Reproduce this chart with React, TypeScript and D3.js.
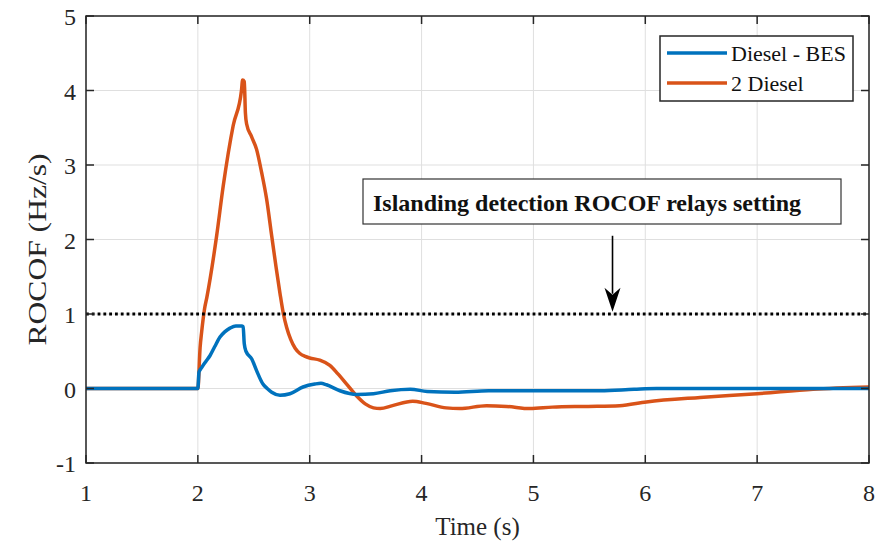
import React from "react";
import * as d3 from "d3";

const xTicks = [1, 2, 3, 4, 5, 6, 7, 8];
const yTicks = [-1, 0, 1, 2, 3, 4, 5];

const seriesNames = ["Diesel - BES", "2 Diesel"];
const seriesColors = ["#0072BD", "#D95319"];

const blueT = [1, 2.0, 2.01, 2.034, 2.07, 2.108, 2.15, 2.198, 2.24, 2.287, 2.34, 2.391, 2.405, 2.415, 2.43, 2.481, 2.525, 2.582, 2.62, 2.66, 2.734, 2.823, 2.94, 3.046, 3.1, 3.15, 3.27, 3.42, 3.57, 3.72, 3.9, 4.05, 4.3, 4.6, 5.0, 5.6, 5.9, 6.1, 8.0];
const blueV = [0, 0, 0.22, 0.28, 0.36, 0.44, 0.56, 0.69, 0.76, 0.81, 0.84, 0.84, 0.83, 0.6, 0.5, 0.4, 0.24, 0.06, 0.0, -0.05, -0.09, -0.07, 0.02, 0.06, 0.07, 0.05, -0.03, -0.08, -0.07, -0.03, -0.01, -0.04, -0.05, -0.03, -0.03, -0.03, -0.01, 0.0, 0.0];

const orangeT = [1, 2.0, 2.02, 2.034, 2.06, 2.08, 2.168, 2.227, 2.316, 2.39, 2.4, 2.415, 2.425, 2.436, 2.48, 2.525, 2.57, 2.615, 2.66, 2.7, 2.734, 2.765, 2.794, 2.83, 2.87, 2.912, 2.96, 3.0, 3.09, 3.18, 3.25, 3.33, 3.42, 3.5, 3.57, 3.63, 3.74, 3.92, 4.04, 4.22, 4.34, 4.58, 4.76, 4.97, 5.17, 5.47, 5.77, 6.01, 6.49, 7.0, 7.5, 8.0];
const orangeV = [0, 0, 0.55, 0.76, 1.07, 1.22, 2.05, 2.72, 3.53, 4.0, 4.14, 4.12, 3.7, 3.55, 3.38, 3.21, 2.9, 2.54, 2.05, 1.62, 1.28, 1.0, 0.82, 0.66, 0.54, 0.47, 0.43, 0.41, 0.38, 0.31, 0.2, 0.06, -0.1, -0.21, -0.26, -0.27, -0.23, -0.17, -0.2, -0.26, -0.27, -0.23, -0.24, -0.27, -0.25, -0.24, -0.23, -0.18, -0.12, -0.07, -0.01, 0.02];

const thresholdValue = 1;
const annotationText = "Islanding detection ROCOF relays setting";
const arrowFrom = [5.707, 2.05];
const arrowTo = [5.707, 1.03];

const W = 892;
const H = 541;
const M = { left: 86, right: 23, top: 16, bottom: 78 };
const FONT = "'Liberation Serif', 'Times New Roman', serif";

export default function App() {
  const x = d3.scaleLinear().domain([1, 8]).range([M.left, W - M.right]);
  const y = d3.scaleLinear().domain([-1, 5]).range([H - M.bottom, M.top]);
  const line = d3
    .line<[number, number]>()
    .x((d) => x(d[0]))
    .y((d) => y(d[1]))
    .curve(d3.curveMonotoneX);

  const blue: [number, number][] = blueT.map((t, i) => [t, blueV[i]]);
  const orange: [number, number][] = orangeT.map((t, i) => [t, orangeV[i]]);

  const x0 = x(1), x1 = x(8), y0 = y(-1), y1 = y(5);
  const axisColor = "#262626";
  const tickLen = 8;

  const ax = x(arrowFrom[0]);
  const ay0 = y(arrowFrom[1]);
  const ay1 = y(arrowTo[1]);

  return (
    <svg
      width={W}
      height={H}
      style={{ position: "absolute", left: 0, top: 0, background: "#fff" }}
      fontFamily={FONT}
    >
      <defs>
        <clipPath id="plotclip">
          <rect x={x0} y={y1} width={x1 - x0} height={y0 - y1} />
        </clipPath>
      </defs>
      <rect x={0} y={0} width={W} height={H} fill="#fff" />
      {/* grid */}
      {xTicks.map((t) => (
        <line key={"gx" + t} x1={x(t)} x2={x(t)} y1={y0} y2={y1} stroke="#dfdfdf" strokeWidth={1} />
      ))}
      {yTicks.map((t) => (
        <line key={"gy" + t} x1={x0} x2={x1} y1={y(t)} y2={y(t)} stroke="#dfdfdf" strokeWidth={1} />
      ))}

      {/* series */}
      <g clipPath="url(#plotclip)">
        <path d={line(orange) || ""} fill="none" stroke={seriesColors[1]} strokeWidth={3.5} strokeLinejoin="round" />
        <path d={line(blue) || ""} fill="none" stroke={seriesColors[0]} strokeWidth={3.5} strokeLinejoin="round" />
        <line x1={x0} x2={x1} y1={y(thresholdValue)} y2={y(thresholdValue)} stroke="#000" strokeWidth={3} strokeDasharray="2.8,3" />
      </g>

      {/* axes box */}
      <rect x={x0} y={y1} width={x1 - x0} height={y0 - y1} fill="none" stroke={axisColor} strokeWidth={1.5} />
      {xTicks.map((t) => (
        <g key={"tx" + t}>
          <line x1={x(t)} x2={x(t)} y1={y0} y2={y0 - tickLen} stroke={axisColor} strokeWidth={1.5} />
          <line x1={x(t)} x2={x(t)} y1={y1} y2={y1 + tickLen} stroke={axisColor} strokeWidth={1.5} />
          <text x={x(t)} y={y0 + 38} textAnchor="middle" fontSize={24} fill="#262626">{t}</text>
        </g>
      ))}
      {yTicks.map((t) => (
        <g key={"ty" + t}>
          <line x1={x0} x2={x0 + tickLen} y1={y(t)} y2={y(t)} stroke={axisColor} strokeWidth={1.5} />
          <line x1={x1} x2={x1 - tickLen} y1={y(t)} y2={y(t)} stroke={axisColor} strokeWidth={1.5} />
          <text x={x0 - 10} y={y(t) + 9} textAnchor="end" fontSize={24} fill="#262626">{t}</text>
        </g>
      ))}

      {/* axis labels */}
      <text x={(x0 + x1) / 2} y={535} textAnchor="middle" fontSize={25} fill="#262626">Time (s)</text>
      <text
        transform={`translate(46, ${(y0 + y1) / 2 + 10}) rotate(-90)`}
        textAnchor="middle"
        fontSize={25}
        fill="#262626"
        textLength={192}
        lengthAdjust="spacingAndGlyphs"
      >
        ROCOF (Hz/s)
      </text>

      {/* annotation */}
      <rect x={363} y={179} width={478} height={45} fill="#fff" stroke="#333" strokeWidth={1.2} />
      <text x={373} y={211} fontSize={24} fontWeight="bold" fill="#111">{annotationText}</text>
      <line x1={ax} x2={ax} y1={ay0} y2={ay1 - 18} stroke="#000" strokeWidth={1.6} />
      <path
        d={`M${ax},${ay1} L${ax - 8},${ay1 - 24} L${ax},${ay1 - 17} L${ax + 8},${ay1 - 24} Z`}
        fill="#000"
      />

      {/* legend */}
      <rect x={660} y={36} width={193} height={65} fill="#fff" stroke={axisColor} strokeWidth={1.5} />
      {seriesNames.map((n, i) => (
        <g key={n}>
          <line x1={667} x2={727} y1={53 + i * 30} y2={53 + i * 30} stroke={seriesColors[i]} strokeWidth={3.5} />
          <text x={731} y={61 + i * 30} fontSize={22} fill="#111">{n}</text>
        </g>
      ))}
    </svg>
  );
}
